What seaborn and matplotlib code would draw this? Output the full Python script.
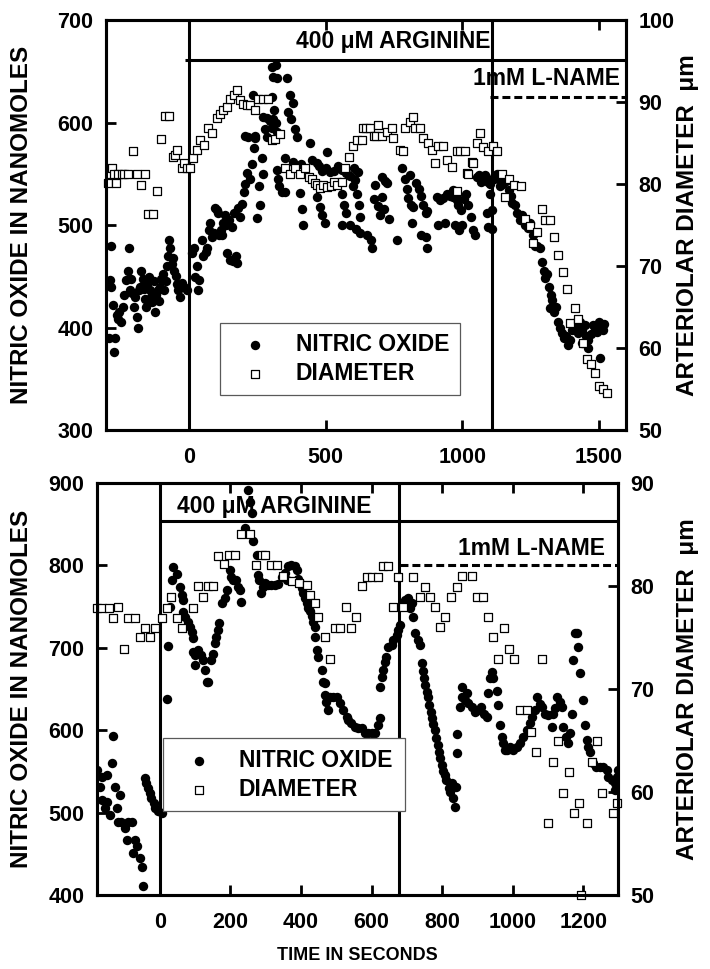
import matplotlib
matplotlib.use("Agg")
import matplotlib.pyplot as plt
import seaborn as sns

# ---------------- top experiment: (time s, value) ----------------
top_no = [
    (-295, 390), (-292, 446), (-288, 440), (-285, 480), (-280, 422), (-276, 376), (-272, 390),
    (-266, 412), (-262, 408), (-257, 415), (-250, 405), (-244, 420), (-238, 432), (-232, 446),
    (-226, 455), (-220, 478), (-216, 437), (-212, 447), (-208, 434), (-203, 420), (-198, 430),
    (-193, 410), (-189, 400), (-185, 437), (-180, 440), (-175, 455), (-170, 447), (-166, 438),
    (-162, 428), (-158, 420), (-153, 442), (-148, 449), (-144, 437), (-140, 430), (-135, 425),
    (-130, 445), (-125, 415), (-121, 432), (-116, 437), (-111, 426), (-106, 440), (-102, 447),
    (-97, 452), (-92, 437), (-87, 445), (-82, 460), (-78, 470), (-73, 485), (-69, 478),
    (-64, 462), (-60, 468), (-55, 455), (-50, 450), (-45, 442), (-40, 437), (-34, 430),
    (-26, 443), (-18, 440), (-8, 437),
    (10, 473), (18, 478), (22, 449), (28, 460), (33, 437), (37, 446), (46, 485), (52, 470),
    (60, 474), (66, 478), (72, 495), (77, 502), (84, 488), (90, 492), (95, 517), (100, 515),
    (106, 512), (110, 490), (116, 495), (121, 490), (125, 502), (130, 510), (136, 500),
    (139, 473), (145, 505), (150, 466), (156, 498), (160, 465), (165, 512), (170, 470),
    (176, 463), (180, 517), (186, 508), (194, 521), (200, 532), (206, 540), (212, 551),
    (222, 545), (230, 560), (236, 575), (242, 585), (249, 507), (255, 538), (260, 520),
    (265, 565), (271, 550), (205, 587), (214, 586), (242, 587), (234, 627), (271, 605),
    (283, 604), (295, 602), (308, 603), (278, 594), (286, 586), (304, 654), (308, 644),
    (304, 625), (316, 656), (322, 643), (359, 643), (310, 612), (318, 600), (322, 591),
    (304, 595), (370, 627), (381, 619), (363, 610), (374, 603), (386, 594), (395, 586),
    (443, 580), (505, 571), (352, 565), (380, 562), (410, 560), (450, 563), (322, 554),
    (326, 545), (330, 538), (340, 532), (352, 532), (407, 531), (412, 516), (418, 500),
    (469, 527), (480, 518), (498, 502), (488, 510), (469, 561), (475, 558), (485, 553),
    (500, 556), (515, 552), (530, 553), (545, 558), (560, 554), (575, 551), (590, 548),
    (605, 556), (619, 552), (553, 542), (560, 530), (566, 520), (575, 512), (560, 500),
    (590, 500), (600, 538), (608, 544), (615, 530), (622, 520), (627, 508), (612, 496),
    (626, 492), (652, 490), (664, 485), (670, 478), (707, 547), (716, 543), (725, 541),
    (681, 539), (676, 525), (692, 519), (706, 527), (712, 516), (700, 510), (730, 506),
    (760, 485), (780, 556), (790, 545), (796, 535), (800, 526), (810, 549), (812, 520),
    (820, 518), (830, 541), (842, 535), (850, 528), (857, 520), (866, 512), (872, 514),
    (817, 502), (850, 490), (872, 478), (868, 488), (912, 500), (908, 527), (918, 524),
    (930, 526), (944, 530), (955, 528), (968, 527), (982, 524), (938, 502), (974, 500),
    (967, 534), (978, 528), (986, 520), (995, 515), (990, 495), (1000, 500), (1008, 525),
    (1015, 530), (1022, 520), (1032, 508), (1040, 495), (1048, 490), (1055, 547),
    (1062, 549), (1068, 542), (1075, 545), (1082, 549), (1088, 547), (1095, 542),
    (1100, 540), (1102, 530), (1092, 512), (1096, 498), (1108, 496), (1110, 515),
    (1118, 545), (1128, 550), (1135, 545), (1140, 538), (1148, 540), (1155, 545),
    (1162, 543), (1170, 534), (1178, 528), (1184, 522), (1192, 520), (1202, 512),
    (1212, 505), (1220, 510), (1230, 500), (1240, 497), (1248, 502), (1258, 490),
    (1265, 480), (1275, 480), (1285, 478), (1293, 464), (1300, 455), (1305, 448),
    (1312, 452), (1318, 440), (1325, 432), (1330, 427), (1322, 419), (1335, 415),
    (1342, 420), (1350, 405), (1358, 400), (1365, 395), (1372, 390), (1380, 392),
    (1388, 383), (1395, 388), (1402, 398), (1410, 404), (1418, 400), (1425, 395),
    (1432, 405), (1440, 398), (1448, 402), (1455, 392), (1462, 388), (1470, 394),
    (1478, 402), (1485, 398), (1492, 396), (1500, 405), (1508, 400), (1515, 398),
    (1520, 403), (1505, 370), (1440, 385), (1460, 380),
]
top_dia = [
    (-296, 80.1), (-290, 81.2), (-283, 82.0), (-276, 81.2), (-268, 80.1), (-260, 81.2),
    (-248, 81.2), (-238, 81.2), (-226, 81.2), (-205, 84.0), (-190, 81.2), (-176, 79.9),
    (-161, 81.2), (-150, 76.3), (-132, 76.3), (-117, 79.1), (-103, 85.5), (-88, 88.3),
    (-73, 88.3), (-58, 83.3), (-51, 83.6), (-44, 84.1), (-28, 82.0), (-18, 82.6), (-8, 82.0),
    (4, 82.0), (15, 83.2), (30, 84.1), (40, 85.4), (55, 84.8), (70, 86.8), (85, 86.2),
    (100, 88.0), (112, 88.6), (125, 89.0), (139, 89.4), (150, 90.4), (165, 90.8), (176, 91.5),
    (187, 90.2), (198, 89.8), (210, 89.6), (223, 89.6), (242, 89.0), (253, 90.4), (270, 90.4),
    (289, 90.4), (304, 85.4), (315, 85.5), (333, 86.1), (352, 82.0), (370, 81.2), (388, 82.0),
    (407, 81.2), (425, 82.0), (440, 80.9), (450, 80.6), (460, 80.1), (469, 79.9), (480, 79.5),
    (490, 79.9), (505, 79.6), (520, 79.8), (530, 80.3), (542, 79.9), (560, 80.2), (571, 82.0),
    (586, 83.3), (601, 84.7), (615, 85.4), (633, 85.4), (638, 86.8), (648, 86.8), (663, 86.8),
    (675, 85.8), (685, 85.8), (693, 87.2), (707, 85.8), (724, 86.3), (742, 86.8), (748, 85.6),
    (773, 84.1), (784, 84.0), (791, 86.8), (809, 87.6), (821, 88.2), (828, 86.8), (846, 86.8),
    (857, 85.6), (876, 85.0), (889, 84.1), (901, 82.6), (912, 84.6), (930, 84.6), (944, 82.9),
    (962, 82.1), (981, 84.0), (981, 79.1), (993, 84.0), (1011, 84.0), (1018, 81.3),
    (1022, 81.2), (1037, 82.7), (1041, 82.6), (1055, 85.0), (1066, 86.2), (1077, 84.5),
    (1095, 84.0), (1113, 84.6), (1128, 84.0), (1146, 81.2), (1158, 78.4), (1172, 80.6),
    (1190, 79.9), (1216, 79.8), (1231, 75.7), (1249, 74.9), (1260, 72.8), (1274, 74.1),
    (1293, 77.0), (1304, 75.6), (1322, 75.6), (1337, 73.5), (1352, 71.3), (1370, 69.3),
    (1384, 67.2), (1395, 63.0), (1414, 64.9), (1425, 63.5), (1443, 60.6), (1458, 58.7),
    (1473, 58.0), (1487, 56.9), (1502, 55.4), (1517, 55.0), (1531, 54.5),
]

# ---------------- bottom experiment ----------------
bot_no = [
    (-178, 552), (-170, 531), (-164, 543), (-164, 515), (-156, 506), (-150, 546), (-150, 513),
    (-142, 497), (-136, 560), (-133, 593), (-127, 531), (-122, 506), (-113, 521),
    (-119, 489), (-109, 489), (-99, 481), (-89, 489), (-79, 489), (-93, 467), (-76, 451),
    (-71, 467), (-65, 459), (-57, 445), (-51, 434), (-48, 411), (-42, 542), (-38, 536),
    (-34, 530), (-28, 524), (-24, 518), (-17, 512), (-14, 506), (-4, 502), (6, 500),
    (20, 638), (23, 702), (28, 750), (34, 782), (37, 798), (48, 790), (57, 774), (62, 764),
    (66, 758), (66, 743), (71, 737), (79, 731), (85, 725), (90, 719), (95, 712), (95, 695),
    (99, 691), (108, 697), (118, 691), (99, 679), (123, 685), (127, 673), (134, 659),
    (136, 659), (146, 685), (151, 693), (155, 706), (160, 713), (165, 722), (169, 730),
    (175, 754), (184, 760), (189, 770), (198, 794), (203, 786), (207, 782), (217, 782),
    (222, 774), (226, 770), (231, 756), (241, 845), (250, 891), (255, 877), (261, 864),
    (264, 829), (274, 813), (278, 788), (282, 782), (288, 766), (292, 774), (297, 778),
    (306, 776), (316, 776), (326, 776), (334, 777), (345, 786), (354, 791), (359, 782),
    (364, 799), (373, 800), (383, 799), (388, 794), (391, 784), (396, 778), (402, 772),
    (405, 766), (411, 760), (416, 754), (420, 748), (425, 744), (430, 738), (434, 731),
    (439, 725), (439, 713), (444, 697), (448, 689), (459, 673), (463, 659), (467, 657),
    (467, 643), (472, 634), (477, 624), (481, 640), (491, 640), (501, 640), (510, 633),
    (519, 624), (529, 616), (533, 612), (543, 609), (552, 604), (562, 603), (572, 603),
    (581, 597), (590, 597), (600, 597), (609, 597), (618, 606), (623, 615), (623, 652),
    (629, 665), (633, 673), (637, 683), (642, 689), (646, 701), (657, 703), (661, 709),
    (671, 715), (674, 722), (680, 728), (688, 754), (694, 758), (703, 760), (708, 748),
    (714, 754), (717, 737), (722, 718), (731, 709), (737, 703),
    (742, 682), (746, 672), (749, 663), (752, 655), (756, 646), (760, 640), (764, 630),
    (767, 622), (771, 615), (775, 607), (779, 600), (783, 590), (787, 582), (791, 574),
    (795, 566), (799, 558), (803, 550), (808, 545), (812, 540), (818, 530), (823, 525),
    (828, 536), (832, 518), (836, 507), (840, 531), (841, 572), (843, 595),
    (850, 628), (855, 652), (855, 640), (864, 637), (870, 645), (873, 633), (884, 628),
    (893, 622), (902, 625), (910, 628), (918, 620), (926, 616), (929, 645), (935, 663),
    (940, 670), (943, 663), (954, 647), (958, 631), (963, 606), (968, 592), (972, 584),
    (977, 576), (983, 576), (991, 580), (1000, 576), (1011, 580), (1020, 584), (1028, 592),
    (1040, 600), (1048, 609), (1054, 616), (1062, 624), (1068, 640), (1077, 632),
    (1082, 628), (1091, 620), (1099, 618), (1110, 604), (1115, 620), (1119, 627),
    (1124, 640), (1133, 634), (1139, 628), (1142, 604), (1152, 592), (1156, 584),
    (1161, 597), (1167, 620), (1170, 685), (1176, 718), (1181, 718), (1184, 701),
    (1190, 669), (1198, 637), (1204, 606), (1209, 588), (1212, 580), (1218, 574),
    (1227, 560), (1237, 555), (1246, 555), (1256, 555), (1266, 552), (1269, 543),
    (1280, 540), (1289, 536), (1289, 527), (1295, 543), (1298, 552),
]
bot_dia = [
    (-178, 77.9), (-164, 77.9), (-145, 77.9), (-133, 76.9), (-119, 78.0), (-102, 73.9),
    (-90, 76.9), (-71, 76.9), (-57, 75.0), (-42, 75.9), (-28, 75.0), (-14, 75.9), (6, 76.9),
    (21, 77.9), (33, 78.9), (49, 76.9), (62, 75.9), (94, 77.9), (108, 80.0), (122, 78.9),
    (136, 80.0), (152, 80.0), (165, 82.9), (181, 82.1), (195, 83.0), (213, 83.0), (229, 85.0),
    (255, 85.0), (272, 82.0), (289, 83.0), (297, 83.0), (314, 82.0), (331, 82.0), (350, 81.0),
    (375, 80.5), (395, 80.3), (416, 80.1), (425, 79.1), (439, 78.3), (448, 77.0), (467, 75.0),
    (481, 72.9), (496, 75.9), (511, 75.9), (527, 78.0), (541, 75.9), (555, 77.0), (572, 80.0),
    (586, 80.9), (601, 80.9), (617, 80.9), (632, 81.9), (646, 81.9), (660, 78.0), (675, 80.9),
    (689, 78.0), (717, 80.9), (736, 78.9), (751, 79.9), (765, 78.9), (779, 78.0), (793, 76.0),
    (809, 77.0), (824, 78.9), (841, 79.9), (855, 81.0), (884, 81.0), (898, 78.9), (915, 78.9),
    (931, 77.0), (944, 75.0), (958, 72.9), (974, 75.9), (989, 73.9), (1004, 72.9),
    (1020, 68.0), (1039, 68.0), (1051, 65.8), (1067, 63.9), (1083, 72.9), (1099, 57.0),
    (1114, 62.9), (1128, 64.9), (1142, 59.9), (1158, 61.9), (1173, 58.0), (1187, 58.9),
    (1192, 50.0), (1209, 57.0), (1224, 62.9), (1238, 64.9), (1252, 59.9), (1283, 58.0),
    (1295, 58.9),
]

sns.set_theme(style="white")
plt.rcParams["font.family"] = ["Liberation Sans", "DejaVu Sans"]
plt.rcParams["font.weight"] = "bold"
plt.rcParams["axes.labelweight"] = "bold"
plt.rcParams["text.color"] = "black"
plt.rcParams["axes.labelcolor"] = "black"

fig = plt.figure(figsize=(7.1, 9.69), dpi=100)
ax_top = fig.add_axes([0.1493, 0.5562, 0.7324, 0.4231])
ax_bot = fig.add_axes([0.1366, 0.0764, 0.7338, 0.4252])

LW = 2.2
DASH = (0, (2.6, 1.3))


def draw_panel(ax, no, dia, xlim, xticks, no_lim, dia_lim, dia_ticks):
    t, v = zip(*no)
    sns.scatterplot(x=list(t), y=list(v), ax=ax, marker="o", s=46, color="black",
                    edgecolor="black", linewidth=0, legend=False)
    h_no = ax.collections[-1]
    ax.set_xlim(*xlim)
    ax.set_ylim(*no_lim)
    ax.set_xticks(xticks)
    ax.set_yticks(range(no_lim[0], no_lim[1] + 1, 100))

    ax2 = ax.twinx()
    t, v = zip(*dia)
    sns.scatterplot(x=list(t), y=list(v), ax=ax2, marker="s", s=30, color="white",
                    edgecolor="black", linewidth=0.9, legend=False, clip_on=False)
    h_d = ax2.collections[-1]
    ax2.set_ylim(*dia_lim)
    ax2.set_yticks(dia_ticks)

    for a in (ax, ax2):
        for sp in a.spines.values():
            sp.set_color("black")
            sp.set_linewidth(LW)
    ax.tick_params(axis="both", direction="in", length=7, width=2, labelsize=15.5,
                   colors="black", top=True, bottom=True, left=True, right=False)
    ax.tick_params(axis="x", pad=12)
    ax.tick_params(axis="y", pad=9)
    ax2.tick_params(axis="y", direction="in", length=7, width=2, labelsize=15.5,
                    colors="black", pad=9)
    ax.set_ylabel("NITRIC OXIDE IN NANOMOLES", fontsize=17.5, fontweight="bold",
                  va="center", color="black")
    ax2.set_ylabel("ARTERIOLAR DIAMETER  \u03bcm", fontsize=17.5, fontweight="bold",
                   va="center", color="black")
    return ax2, h_no, h_d


def add_legend(ax2, h_no, h_d, box):
    leg = ax2.legend([h_no, h_d], ["NITRIC OXIDE", "DIAMETER"], loc="center",
                     bbox_to_anchor=box, mode="expand", fontsize=16.5, frameon=True,
                     fancybox=False, framealpha=1, edgecolor="0.35", borderpad=0.45,
                     labelspacing=0.25, handlelength=2.2, handletextpad=0.65,
                     borderaxespad=0)
    leg.get_frame().set_linewidth(0.9)
    for txt in leg.get_texts():
        txt.set_color("black")


# ---- top panel ----
ax2_top, h1, h2 = draw_panel(ax_top, top_no, top_dia, (-305, 1600), [0, 500, 1000, 1500],
                             (300, 700), (50, 100), range(50, 101, 10))
ax_top.axvline(0, color="black", lw=LW)
ax_top.axvline(1110, color="black", lw=LW)
ax_top.hlines(661, -15, 1600, color="black", lw=LW)
ax_top.hlines(625, 1103, 1600, color="black", lw=LW, linestyles=DASH)
ax_top.text(747, 679, "400 \u03bcM ARGININE", ha="center", va="center", fontsize=16.5,
            fontweight="bold", color="black")
ax_top.text(1579, 643, "1mM L-NAME", ha="right", va="center", fontsize=16.5,
            fontweight="bold", color="black")
ax_top.yaxis.set_label_coords(-0.162, 0.5)
ax2_top.yaxis.set_label_coords(1.119, 0.5)
add_legend(ax2_top, h1, h2, (0.219, 0.085, 0.462, 0.178))

# ---- bottom panel ----
ax2_bot, h1, h2 = draw_panel(ax_bot, bot_no, bot_dia, (-178, 1298), range(0, 1201, 200),
                             (400, 900), (50, 90), range(50, 91, 10))
ax_bot.axvline(0, color="black", lw=LW)
ax_bot.axvline(677, color="black", lw=LW)
ax_bot.hlines(854, 0, 1298, color="black", lw=LW)
ax_bot.hlines(800.5, 680, 1298, color="black", lw=LW, linestyles=DASH)
ax_bot.text(323, 871, "400 \u03bcM ARGININE", ha="center", va="center", fontsize=16.5,
            fontweight="bold", color="black")
ax_bot.text(1261, 821, "1mM L-NAME", ha="right", va="center", fontsize=16.5,
            fontweight="bold", color="black")
ax_bot.yaxis.set_label_coords(-0.144, 0.5)
ax2_bot.yaxis.set_label_coords(1.134, 0.5)
ax_bot.set_xlabel("TIME IN SECONDS", fontsize=13, fontweight="bold", va="center",
                  color="black")
ax_bot.xaxis.set_label_coords(0.5, -0.148)
add_legend(ax2_bot, h1, h2, (0.127, 0.201, 0.464, 0.182))

fig.savefig("out.png", dpi=100, facecolor="white")
